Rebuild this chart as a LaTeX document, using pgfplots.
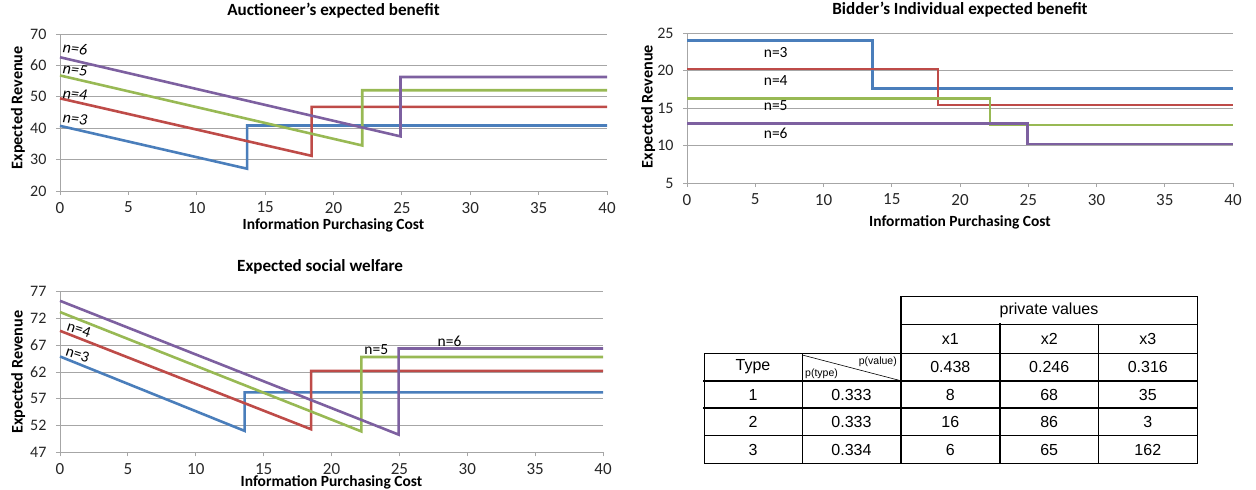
\documentclass[border=0pt]{standalone}
\usepackage{pgfplots}
\pgfplotsset{compat=1.18}
\usepackage{fontspec}
\setmainfont{Carlito}
\newfontfamily\arialfont{Liberation Sans}
\definecolor{cblue}{HTML}{4A7EBB}
\definecolor{cred}{HTML}{BE4B48}
\definecolor{cgreen}{HTML}{98B954}
\definecolor{cpurple}{HTML}{7D60A0}
\definecolor{cgrid}{HTML}{A6A6A6}
\tikzset{
  nlab/.style={font=\itshape\fontsize{16}{16}\selectfont, inner sep=0pt},
  rlab/.style={font=\fontsize{15.5}{15.5}\selectfont, inner sep=0pt},
  ulab/.style={font=\fontsize{15.5}{15.5}\selectfont, inner sep=0pt},
}
\pgfplotsset{
  exstyle/.style={
    scale only axis,
    xmin=0, xmax=40, xtick={0,5,...,40},
    axis x line=bottom, axis y line=left,
    axis line style={-, draw=cgrid, line width=0.9pt},
    ymajorgrids, grid style={cgrid, line width=0.9pt},
    tick align=outside, major tick length=4pt,
    tick style={cgrid, line width=0.9pt},
    /pgf/number format/assume math mode=true,
    xticklabel style={font=\fontsize{17}{17}\selectfont, text=black!85, yshift=-3.5pt},
    yticklabel style={font=\fontsize{16}{16}\selectfont, text=black!85, xshift=-6pt},
    xlabel style={font=\bfseries\fontsize{15.5}{15.5}\selectfont, anchor=center},
    ylabel style={font=\bfseries\fontsize{16.2}{16.2}\selectfont, anchor=center, rotate=0},
    title style={font=\bfseries\fontsize{17.1}{17.1}\selectfont, anchor=center},
    every axis plot/.append style={line width=2.6pt, no markers},
    clip=false,
  },
}
\begin{document}
\begin{tikzpicture}
\useasboundingbox (0,0) rectangle (1256pt,-490pt);
% ---------- Plot 1 ----------
\begin{axis}[exstyle,
  at={(60pt,-191pt)}, anchor=south west, width=547pt, height=157pt,
  ymin=20, ymax=70, ytick={20,30,...,70},
  title={Auctioneer's expected benefit},
  title style={at={(axis description cs:0.5,1.108)}},
  xlabel={Information Purchasing Cost},
  xlabel style={at={(axis description cs:0.5,-0.218)}},
  ylabel={Expected Revenue},
  ylabel style={at={(axis description cs:-0.077,0.53)}},
]
\addplot[cblue] coordinates {(0,40.75) (13.68,27.1) (13.68,40.85) (40,40.85)};
\addplot[cred] coordinates {(0,49.5) (18.4,31.2) (18.4,46.8) (40,46.8)};
\addplot[cgreen] coordinates {(0,56.8) (22.1,34.5) (22.1,52.1) (40,52.1)};
\addplot[cpurple] coordinates {(0,62.6) (24.9,37.4) (24.9,56.3) (40,56.3)};
\node[nlab, rotate=-6] at (axis cs:1.1,65.4) {n=6};
\node[nlab, rotate=-6] at (axis cs:1.1,58.6) {n=5};
\node[nlab, rotate=-6] at (axis cs:1.1,50.8) {n=4};
\node[nlab, rotate=-6] at (axis cs:1.1,43.0) {n=3};
\end{axis}
% ---------- Plot 2 ----------
\begin{axis}[exstyle,
  at={(687pt,-183pt)}, anchor=south west, width=546pt, height=150pt,
  ymin=5, ymax=25, ytick={5,10,...,25},
  title={Bidder's Individual expected benefit},
  title style={at={(axis description cs:0.5,1.113)}},
  xlabel={Information Purchasing Cost},
  xlabel style={at={(axis description cs:0.5,-0.265)}},
  ylabel={Expected Revenue},
  ylabel style={at={(axis description cs:-0.071,0.51)}},
]
\addplot[cblue] coordinates {(0,24) (13.6,24) (13.6,17.6) (40,17.6)};
\addplot[cred] coordinates {(0,20.2) (18.4,20.2) (18.4,15.4) (40,15.4)};
\addplot[cgreen] coordinates {(0,16.3) (22.2,16.3) (22.2,12.75) (40,12.75)};
\addplot[cpurple] coordinates {(0,12.9) (24.95,12.9) (24.95,10.2) (40,10.2)};
\node[ulab] at (axis cs:6.5,22.4) {n=3};
\node[ulab] at (axis cs:6.5,18.6) {n=4};
\node[ulab] at (axis cs:6.5,15.3) {n=5};
\node[ulab] at (axis cs:6.5,11.6) {n=6};
\end{axis}
% ---------- Plot 3 ----------
\begin{axis}[exstyle,
  at={(60pt,-452.3pt)}, anchor=south west, width=543pt, height=160.6pt,
  ymin=47, ymax=77, ytick={47,52,...,77},
  title={Expected social welfare},
  title style={at={(axis description cs:0.479,1.116)}},
  xlabel={Information Purchasing Cost},
  xlabel style={at={(axis description cs:0.5,-0.19)}},
  ylabel={Expected Revenue},
  ylabel style={at={(axis description cs:-0.077,0.5)}},
]
\addplot[cblue] coordinates {(0,64.9) (13.6,51.0) (13.6,58.2) (40,58.2)};
\addplot[cred] coordinates {(0,69.7) (18.5,51.3) (18.5,62.2) (40,62.2)};
\addplot[cgreen] coordinates {(0,73.2) (22.2,50.9) (22.2,64.8) (40,64.8)};
\addplot[cpurple] coordinates {(0,75.3) (24.95,50.3) (24.95,66.4) (40,66.4)};
\node[rlab, rotate=-18] at (axis cs:1.4,70.0) {n=4};
\node[rlab, rotate=-18] at (axis cs:1.3,65.3) {n=3};
\node[ulab] at (axis cs:23.3,66.1) {n=5};
\node[ulab] at (axis cs:28.7,67.8) {n=6};
\end{axis}
% ---------- Table ----------
\begin{scope}[line cap=rect]
\def\thin{0.9pt}\def\thick{1.8pt}
\draw[line width=\thin] (900.7pt,-296.7pt) -- (1197.3pt,-296.7pt);
\draw[line width=\thin] (900.7pt,-324.3pt) -- (1197.3pt,-324.3pt);
\draw[line width=\thin] (704pt,-353.3pt) -- (1197.3pt,-353.3pt);
\draw[line width=\thick] (704pt,-380.7pt) -- (1197.3pt,-380.7pt);
\draw[line width=\thick] (704pt,-408.3pt) -- (1197.3pt,-408.3pt);
\draw[line width=\thin] (704pt,-435.7pt) -- (1197.3pt,-435.7pt);
\draw[line width=\thin] (704pt,-463.3pt) -- (1197.3pt,-463.3pt);
\draw[line width=\thin] (704pt,-353.3pt) -- (704pt,-463.3pt);
\draw[line width=\thin] (802.3pt,-353.3pt) -- (802.3pt,-463.3pt);
\draw[line width=\thick] (900.7pt,-296.7pt) -- (900.7pt,-463.3pt);
\draw[line width=\thick] (1000pt,-324.3pt) -- (1000pt,-463.3pt);
\draw[line width=\thin] (1098.3pt,-324.3pt) -- (1098.3pt,-463.3pt);
\draw[line width=\thin] (1197.3pt,-296.7pt) -- (1197.3pt,-463.3pt);
\draw[line width=0.6pt] (802.3pt,-355pt) -- (900.7pt,-380.7pt);
\end{scope}
\begin{scope}[every node/.style={font=\arialfont\fontsize{16}{16}\selectfont, anchor=center, inner sep=0pt}]
\node at (1049pt,-310.5pt) {private values};
\node at (950.3pt,-339pt) {x1};
\node at (1049.2pt,-339pt) {x2};
\node at (1147.8pt,-339pt) {x3};
\node at (753pt,-367pt) {Type};
\node at (950.3pt,-367pt) {0.438};
\node at (1049.2pt,-367pt) {0.246};
\node at (1147.8pt,-367pt) {0.316};
\node at (753pt,-394.5pt) {1};
\node at (851.5pt,-394.5pt) {0.333};
\node at (950.3pt,-394.5pt) {8};
\node at (1049.2pt,-394.5pt) {68};
\node at (1147.8pt,-394.5pt) {35};
\node at (753pt,-422pt) {2};
\node at (851.5pt,-422pt) {0.333};
\node at (950.3pt,-422pt) {16};
\node at (1049.2pt,-422pt) {86};
\node at (1147.8pt,-422pt) {3};
\node at (753pt,-449.5pt) {3};
\node at (851.5pt,-449.5pt) {0.334};
\node at (950.3pt,-449.5pt) {6};
\node at (1049.2pt,-449.5pt) {65};
\node at (1147.8pt,-449.5pt) {162};
\node[font=\arialfont\fontsize{10.5}{10.5}\selectfont, anchor=north east] at (897pt,-356.5pt) {p(value)};
\node[font=\arialfont\fontsize{10.5}{10.5}\selectfont, anchor=south west] at (805pt,-378.5pt) {p(type)};
\end{scope}
\end{tikzpicture}
\end{document}
